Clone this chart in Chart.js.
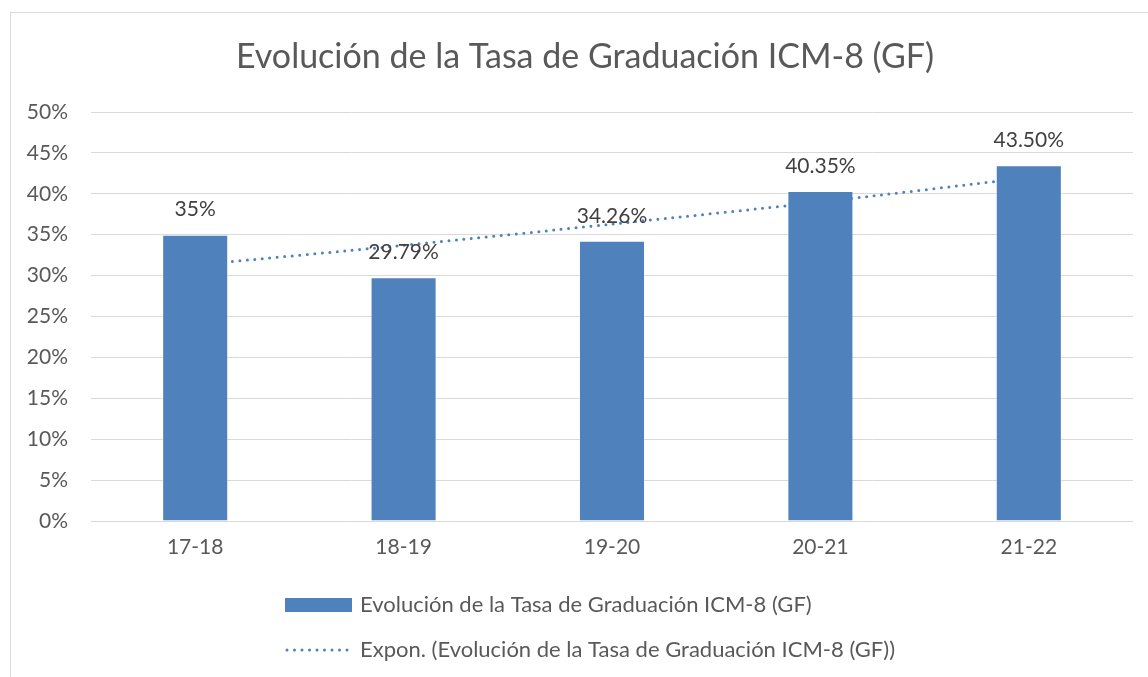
<!DOCTYPE html>
<html>
<head>
<meta charset="utf-8">
<script src="https://cdn.jsdelivr.net/npm/chart.js@4.4.1/dist/chart.umd.min.js"></script>
<style>
  html, body { margin: 0; padding: 0; background: #fff; }
  #wrap { width: 1148px; height: 677px; position: relative; }
</style>
</head>
<body>
<div id="wrap"><canvas id="chart"></canvas></div>
<script>
// values
const categories = ['17-18', '18-19', '19-20', '20-21', '21-22'];
const rates = [35, 29.79, 34.26, 40.35, 43.50];
const rateLabels = ['35%', '29.79%', '34.26%', '40.35%', '43.50%'];
// exponential trendline as seen on the picture, one point per category
const trend = [31.3, 33.7, 36.3, 39.0, 42.0];

const titleText = 'Evolución de la Tasa de Graduación ICM-8 (GF)';
const barName = 'Evolución de la Tasa de Graduación ICM-8 (GF)';
const trendName = 'Expon. (Evolución de la Tasa de Graduación ICM-8 (GF))';

const blue = '#4F81BD';
const textGrey = '#595959';
const font = 'Lato';

// title, outer frame, value labels and the stacked legend
const decorations = {
  id: 'decorations',
  beforeDraw(chart) {
    const ctx = chart.ctx;
    ctx.save();
    ctx.strokeStyle = '#d9d9d9';
    ctx.lineWidth = 1;
    ctx.strokeRect(10.5, 12.5, 1200, 700);
    ctx.restore();
  },
  afterDatasetsDraw(chart) {
    const ctx = chart.ctx;
    const meta = chart.getDatasetMeta(0);
    ctx.save();
    ctx.font = `21px ${font}`;
    ctx.fillStyle = '#404040';
    ctx.textAlign = 'center';
    ctx.textBaseline = 'middle';
    meta.data.forEach((bar, i) => {
      ctx.fillText(rateLabels[i], bar.x, bar.y - 25);
    });
    ctx.restore();
  },
  afterDraw(chart) {
    const ctx = chart.ctx;
    ctx.save();
    // title
    ctx.font = `34px ${font}`;
    ctx.fillStyle = textGrey;
    ctx.textAlign = 'center';
    ctx.textBaseline = 'middle';
    ctx.fillText(titleText, 585, 57);

    // legend
    ctx.font = `22px ${font}`;
    ctx.textAlign = 'left';
    ctx.fillStyle = blue;
    ctx.fillRect(285, 598, 67, 14);
    ctx.fillStyle = textGrey;
    ctx.fillText(barName, 360, 605);

    ctx.strokeStyle = blue;
    ctx.lineWidth = 3;
    ctx.lineCap = 'round';
    ctx.setLineDash([0, 7.5]);
    ctx.beginPath();
    ctx.moveTo(287, 650);
    ctx.lineTo(352, 650);
    ctx.stroke();
    ctx.setLineDash([]);
    ctx.fillText(trendName, 360, 650);
    ctx.restore();
  }
};

new Chart(document.getElementById('chart'), {
  data: {
    labels: categories,
    datasets: [
      {
        type: 'bar',
        label: barName,
        data: rates,
        backgroundColor: blue,
        borderColor: 'rgba(255,255,255,0.35)',
        borderWidth: 1,
        barPercentage: 0.317,
        categoryPercentage: 1,
        order: 1
      },
      {
        type: 'line',
        label: trendName,
        data: trend,
        borderColor: blue,
        borderWidth: 3,
        borderDash: [0, 7.5],
        borderCapStyle: 'round',
        pointRadius: 0,
        tension: 0.3,
        fill: false,
        order: 2
      }
    ]
  },
  options: {
    responsive: true,
    maintainAspectRatio: false,
    animation: false,
    layout: { padding: { top: 112, right: 15, left: 0, bottom: 0 } },
    plugins: {
      legend: { display: false },
      title: { display: false },
      tooltip: { enabled: false }
    },
    scales: {
      x: {
        offset: true,
        grid: { display: false, drawTicks: false },
        border: { display: false },
        ticks: { color: textGrey, font: { family: font, size: 21 }, padding: 14 },
        afterFit(scale) { scale.height = 156; }
      },
      y: {
        min: 0,
        max: 50,
        grid: { color: '#d9d9d9', lineWidth: 1, drawTicks: false },
        border: { display: false },
        ticks: {
          stepSize: 5,
          color: textGrey,
          font: { family: font, size: 21 },
          padding: 23,
          callback: v => v + '%'
        },
        afterFit(scale) { scale.width = 91; }
      }
    }
  },
  plugins: [decorations]
});
</script>
</body>
</html>
